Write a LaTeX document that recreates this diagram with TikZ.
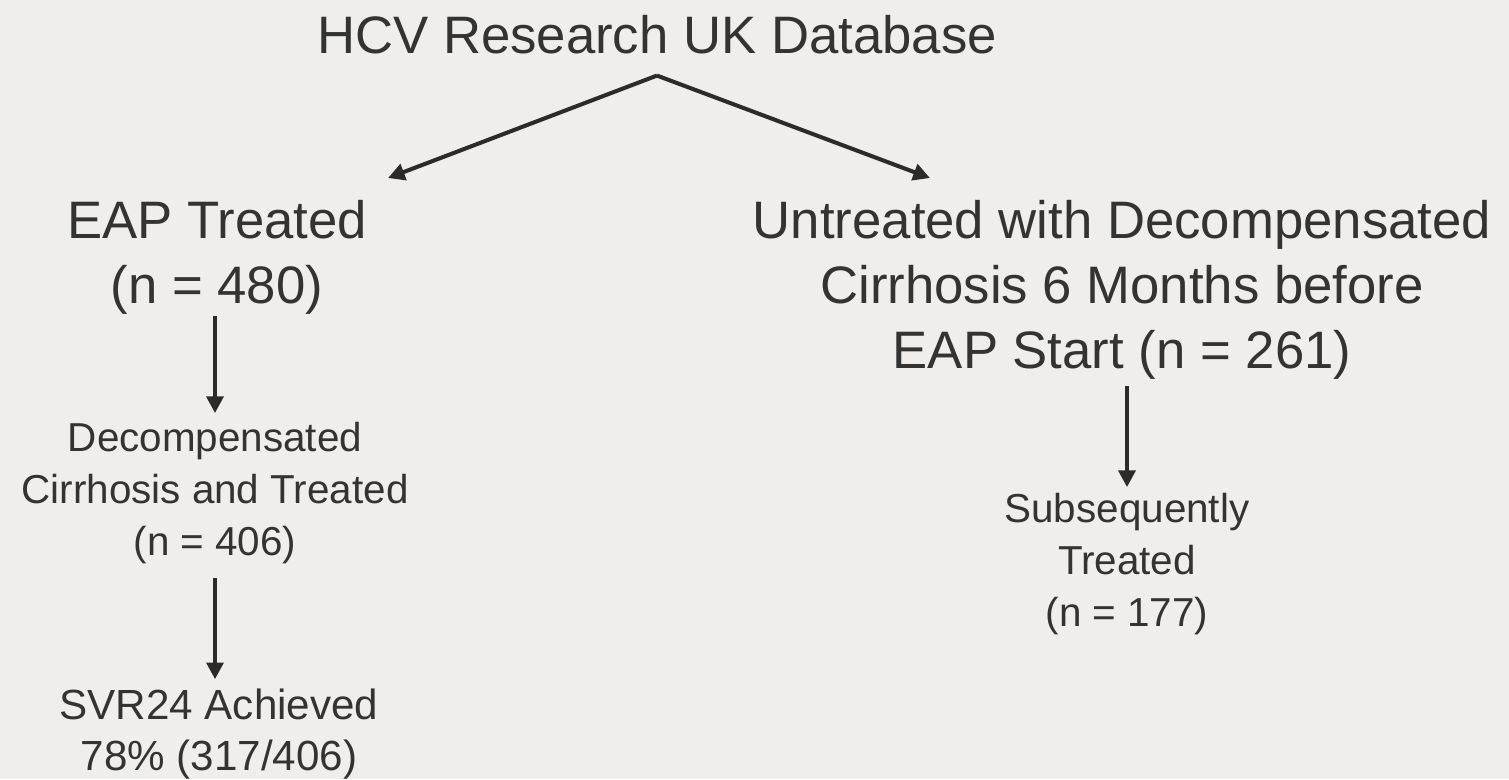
\documentclass[tikz,border=0pt]{standalone}
\usepackage{fontspec}
\setmainfont{Liberation Sans}
\usetikzlibrary{arrows.meta}
\definecolor{bgcol}{HTML}{EFEEEC}
\definecolor{txtcol}{HTML}{333333}
\definecolor{arrcol}{HTML}{2B2B2B}
\tikzset{
    bigtxt/.style={align=center, text=txtcol, font=\fontsize{30}{37}\selectfont},
    smalltxt/.style={align=center, text=txtcol, font=\fontsize{23}{29.5}\selectfont},
    flowarrow/.style={draw=arrcol, line width=2.3pt, -{Triangle[length=9.5pt,width=9.5pt]}}
}
\begin{document}
\begin{tikzpicture}[x=0.02cm,y=-0.02cm]

    % Background and page size
    \fill[bgcol] (0,0) rectangle (1509,779);
    \useasboundingbox (0,0) rectangle (1509,779);

    % Boxes of text
    \node[bigtxt] (db) at (657,35) {HCV Research UK Database};
    \node[bigtxt] (eap) at (217,257) {EAP Treated\\(n = 480)};
    \node[bigtxt] (untr) at (1122,290) {Untreated with Decompensated\\Cirrhosis 6 Months before\\EAP Start (n = 261)};
    \node[smalltxt] (decomp) at (215,493) {Decompensated\\Cirrhosis and Treated\\(n = 406)};
    \node[smalltxt, font=\fontsize{24}{29.5}\selectfont] (svr) at (219,734) {SVR24 Achieved\\78\% (317/406)};
    \node[smalltxt] (subs) at (1127,564) {Subsequently\\Treated\\(n = 177)};

    % Split point under the database
    \coordinate (apex) at ([yshift=-0.3cm]db.south);
    \coordinate (eaptip) at (388,178);
    \coordinate (untrtip) at (930,178);

    % Arrows
    \draw[flowarrow] (apex) -- (eaptip);
    \draw[flowarrow] (apex) -- (untrtip);
    \draw[flowarrow] ([yshift=0.09cm]eap.south -| decomp.north) -- ([yshift=0.06cm]decomp.north);
    \draw[flowarrow] ([yshift=-0.16cm]decomp.south) -- ([yshift=0.06cm]decomp.south |- svr.north);
    \draw[flowarrow] (untr.south -| subs.north) -- (subs.north);

\end{tikzpicture}
\end{document}
